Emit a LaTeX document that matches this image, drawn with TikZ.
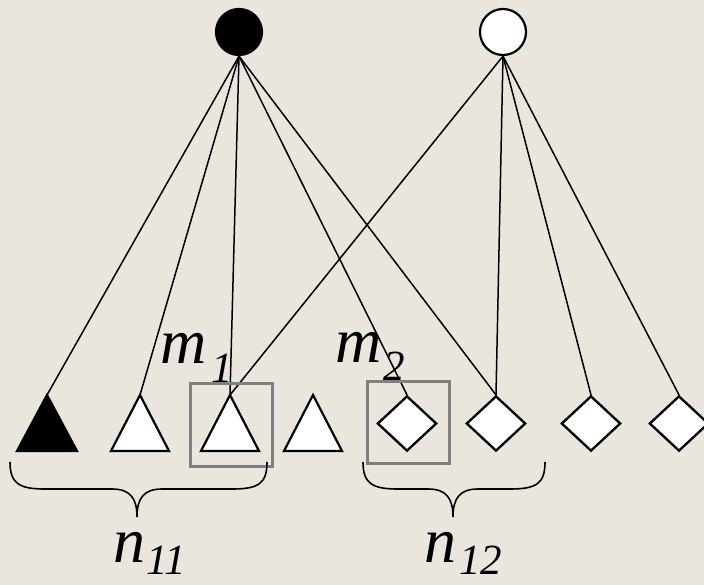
\documentclass[tikz,border=0pt]{standalone}
\usepackage{fontspec}
\setmainfont{Liberation Serif}
\usetikzlibrary{shapes.geometric}
\definecolor{paper}{HTML}{EAE6DD}
\definecolor{boxgray}{HTML}{808080}
\begin{document}
\begin{tikzpicture}[x=1pt,y=-1pt,
  conn/.style={line width=1.5pt},
  tri/.style={draw, line width=2.2pt, line join=miter},
  dia/.style={diamond, draw, fill=white, line width=2.2pt, minimum width=59pt, minimum height=55pt, inner sep=0pt},
  dot/.style={circle, draw, line width=2.2pt, minimum size=46pt, inner sep=0pt},
  selbox/.style={draw=boxgray, line width=3pt},
  brc/.style={line width=1.6pt},
  lbl/.style={inner sep=0pt, anchor=base west, font=\fontsize{64}{64}\selectfont\itshape}
]
\useasboundingbox[fill=paper] (0,0) rectangle (704,585);

% parent nodes
\node[dot, fill=black] (bc) at (239,32) {};
\node[dot, fill=white] (wc) at (503,32) {};

% triangle apexes
\coordinate (t1) at (47,395);
\coordinate (t2) at (140,395);
\coordinate (t3) at (230,395);
\coordinate (t4) at (313,395);

% diamonds
\node[dia] (d1) at (407,423.5) {};
\node[dia] (d2) at (496,423.5) {};
\node[dia] (d3) at (591,423.5) {};
\node[dia] (d4) at (679,423.5) {};

% connectors
\draw[conn] (bc.south) -- (t1);
\draw[conn] (bc.south) -- (t2);
\draw[conn] (bc.south) -- (t3);
\draw[conn] (bc.south) -- (d1.north);
\draw[conn] (bc.south) -- (d2.north);
\draw[conn] (wc.south) -- (t3);
\draw[conn] (wc.south) -- (d2.north);
\draw[conn] (wc.south) -- (d3.north);
\draw[conn] (wc.south) -- (d4.north);

% triangles
\path[tri, fill=black] (t1) -- ++(30,56) -- ++(-60,0) -- cycle;
\path[tri, fill=white] (t2) -- ++(29,56) -- ++(-58,0) -- cycle;
\path[tri, fill=white] (t3) -- ++(29,56) -- ++(-58,0) -- cycle;
\path[tri, fill=white] (t4) -- ++(29,56) -- ++(-58,0) -- cycle;

% redraw diamonds on top
\node[dia] at (d1) {};
\node[dia] at (d2) {};
\node[dia] at (d3) {};
\node[dia] at (d4) {};

% selection boxes
\draw[selbox] (190,383) rectangle (272,466);
\draw[selbox] (367,381) rectangle (449,463);

% braces
\draw[brc] (10,462) .. controls (10,484) and (20,489) .. (45,489) -- (112,489)
  .. controls (130,489) and (137,498) .. (137,517)
  .. controls (137,498) and (144,489) .. (162,489) -- (232,489)
  .. controls (258,489) and (267,484) .. (267,462);
\draw[brc] (363,462) .. controls (363,484) and (373,489) .. (398,489) -- (428,489)
  .. controls (446,489) and (453,498) .. (453,517)
  .. controls (453,498) and (460,489) .. (478,489) -- (510,489)
  .. controls (536,489) and (545,484) .. (545,462);

% labels
\node[lbl] (m1) at (160,363) {m\kern5pt\raisebox{-19pt}{\fontsize{43}{43}\selectfont 1}};
\node[lbl] (m2) at (335,362) {m\kern2pt\raisebox{-18pt}{\fontsize{43}{43}\selectfont 2}};
\node[lbl] (n11) at (113,562) {n\kern1pt\raisebox{-12pt}{\fontsize{43}{43}\selectfont 11}};
\node[lbl] (n12) at (424,562) {n\kern3pt\raisebox{-12pt}{\fontsize{43}{43}\selectfont 12}};
\end{tikzpicture}
\end{document}
